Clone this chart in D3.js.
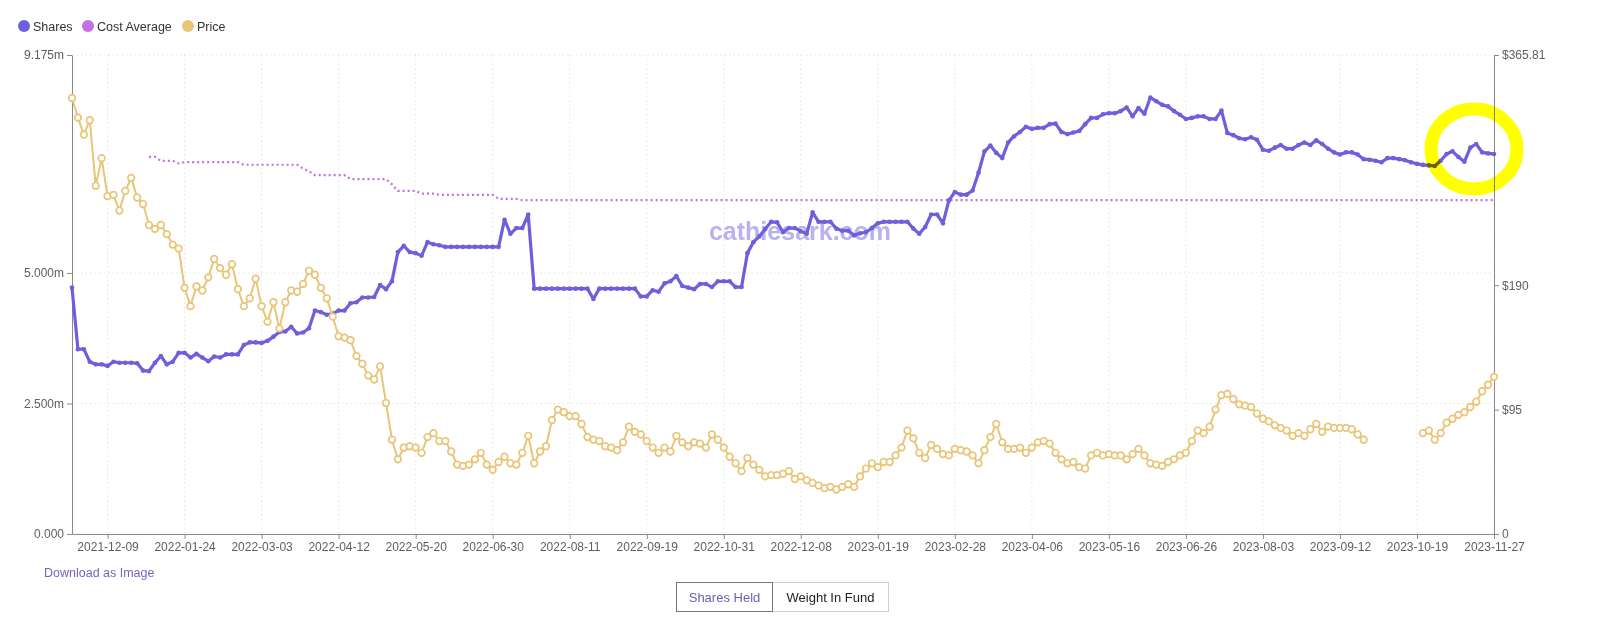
<!DOCTYPE html>
<html><head><meta charset="utf-8">
<script src="https://cdn.jsdelivr.net/npm/d3@7"></script>
<style>
body{margin:0;background:#fff;}
svg{display:block;font-family:"Liberation Sans",Arial,sans-serif;}
</style></head><body>
<svg id="chart" width="1600" height="634"></svg>
<script>
const seriesNames = ["Shares", "Cost Average", "Price"];
const tickLabels = ["2021-12-09","2022-01-24","2022-03-03","2022-04-12","2022-05-20","2022-06-30","2022-08-11","2022-09-19","2022-10-31","2022-12-08","2023-01-19","2023-02-28","2023-04-06","2023-05-16","2023-06-26","2023-08-03","2023-09-12","2023-10-19","2023-11-27"];
const tickIndex = [6,19,32,45,58,71,84,97,110,123,136,149,162,175,188,201,214,227,240];
const leftTicks = [0, 2.5, 5, 9.175];
const leftTickLabels = ["0.000","2.500m","5.000m","9.175m"];
const rightTicks = [0, 95, 190, 365.81];
const rightTickLabels = ["0","$95","$190","$365.81"];

// shares held (millions)
const shares = [
4.72,3.54,3.54,3.30,3.25,3.25,3.22,3.30,3.28,3.28,
3.28,3.27,3.13,3.12,3.28,3.41,3.25,3.30,3.47,3.47,
3.38,3.45,3.38,3.31,3.40,3.38,3.44,3.44,3.44,3.62,
3.67,3.67,3.66,3.70,3.78,3.87,3.88,3.97,3.84,3.86,
3.94,4.28,4.25,4.20,4.22,4.28,4.28,4.42,4.44,4.53,
4.53,4.54,4.77,4.69,4.84,5.40,5.52,5.40,5.38,5.33,
5.59,5.55,5.53,5.50,5.50,5.50,5.50,5.50,5.50,5.50,
5.50,5.50,5.50,6.02,5.75,5.86,5.86,6.12,4.70,4.70,
4.70,4.70,4.70,4.70,4.70,4.70,4.70,4.70,4.50,4.70,
4.70,4.70,4.70,4.70,4.70,4.70,4.55,4.55,4.67,4.64,
4.80,4.84,4.94,4.75,4.72,4.69,4.79,4.79,4.73,4.84,
4.84,4.84,4.73,4.73,5.38,5.59,5.70,5.84,5.98,5.97,
5.78,5.86,5.86,5.80,5.75,6.16,5.98,5.98,5.98,5.85,
5.81,5.81,5.72,5.76,5.78,5.86,5.95,5.98,5.98,5.98,
5.98,5.98,5.85,5.75,5.88,6.12,6.12,5.95,6.39,6.55,
6.50,6.50,6.58,6.92,7.33,7.44,7.30,7.20,7.50,7.62,
7.70,7.80,7.76,7.78,7.78,7.85,7.86,7.70,7.66,7.69,
7.72,7.85,7.97,7.97,8.04,8.06,8.06,8.10,8.17,8.00,
8.16,8.05,8.36,8.29,8.22,8.19,8.10,8.03,7.95,7.97,
8.00,8.00,7.95,7.95,8.11,7.68,7.64,7.58,7.56,7.60,
7.55,7.36,7.34,7.40,7.45,7.38,7.38,7.45,7.50,7.45,
7.54,7.47,7.38,7.31,7.27,7.31,7.31,7.27,7.18,7.17,
7.15,7.12,7.20,7.20,7.18,7.16,7.12,7.09,7.07,7.06,
7.05,7.15,7.28,7.33,7.22,7.13,7.40,7.47,7.31,7.29,
7.28
];

// share price ($)
const price = [
333,318,305,316,266,287,258,259,247,262,
272,257,252,236,233,236,229,221,218,188,
174,189,186,196,210,203,198,206,187,174,
180,195,174,162,177,157,177,186,185,191,
201,198,188,180,166,151,150,148,136,130,
121,118,128,100,72,57,66,67,66,62,
74,77,71,71,63,53,52,53,57,62,
53,49,55,59,54,53,62,75,54,63,
67,87,95,93,90,90,84,74,72,71,
67,66,64,70,82,78,76,71,66,62,
66,63,75,70,67,70,69,66,76,72,
66,59,54,48,58,53,49,44,45,45,
46,48,42,44,41,39,37,35,36,34,
36,38,36,44,50,54,51,55,55,60,
66,79,73,62,58,68,65,61,60,65,
64,63,60,54,64,74,84,70,65,65,
66,62,66,70,71,69,62,57,54,55,
51,50,60,62,60,61,60,60,57,61,
65,60,54,53,52,55,57,60,62,71,
79,77,82,95,106,107,103,99,98,97,
92,88,86,83,81,79,75,77,75,80,
84,78,82,81,81,81,80,76,72,null,
null,null,null,null,null,null,null,null,77,79,
72,77,85,88,91,93,97,101,109,114,
120
];

// cost average ($)
const costAverage = [
null,null,null,null,null,null,null,null,null,null,
null,null,null,288,288,285,285,285,283,284,
284,284,284,284,284,284,284,284,284,282,
282,282,282,282,282,282,282,282,282,279,
277,274,274,274,274,274,274,271,271,271,
271,271,271,271,267,262,262,262,262,260,
260,260,259,259,259,259,259,259,259,259,
259,259,256,256,256,256,255,255,255,255,
255,255,255,255,255,255,255,255,255,255,
255,255,255,255,255,255,255,255,255,255,
255,255,255,255,255,255,255,255,255,255,
255,255,255,255,255,255,255,255,255,255,
255,255,255,255,255,255,255,255,255,255,
255,255,255,255,255,255,255,255,255,255,
255,255,255,255,255,255,255,255,255,255,
255,255,255,255,255,255,255,255,255,255,
255,255,255,255,255,255,255,255,255,255,
255,255,255,255,255,255,255,255,255,255,
255,255,255,255,255,255,255,255,255,255,
255,255,255,255,255,255,255,255,255,255,
255,255,255,255,255,255,255,255,255,255,
255,255,255,255,255,255,255,255,255,255,
255,255,255,255,255,255,255,255,255,255,
255,255,255,255,255,255,255,255,255,255,
255
];

// ---- drawing ----
const colors = {shares:"#6e5fdc", cost:"#c56ee2", price:"#e8c578"};
const svg = d3.select("#chart");
svg.append("rect").attr("width",1600).attr("height",634).attr("fill","#fff");

const x = d3.scaleLinear().domain([0, shares.length - 1]).range([72, 1494]);
const yL = d3.scaleLinear().domain([0, 9.175]).range([534, 55]);
const yR = d3.scaleLinear().domain([0, 365.81]).range([534, 55]);

// grid
const grid = svg.append("g");
grid.selectAll("line.v").data(tickIndex).join("line")
  .attr("x1", d => x(d)).attr("x2", d => x(d)).attr("y1", 55).attr("y2", 534)
  .attr("stroke", "#e3e3e3").attr("stroke-dasharray", "1.5,3");
grid.selectAll("line.h").data(leftTicks.slice(1)).join("line")
  .attr("x1", 72).attr("x2", 1494).attr("y1", d => yL(d)).attr("y2", d => yL(d))
  .attr("stroke", "#e3e3e3").attr("stroke-dasharray", "1.5,3");

// watermark
svg.append("text").attr("x", 800).attr("y", 240).attr("text-anchor", "middle")
  .attr("font-size", 25).attr("font-weight", "bold").attr("fill", "#b9b1f1")
  .attr("font-family", "'Liberation Sans', Arial, sans-serif")
  .text("cathiesark.com");

// axes
function styleAxis(g){
  g.selectAll("path.domain").attr("stroke", "#8a8a8a");
  g.selectAll(".tick line").attr("stroke", "#8a8a8a");
  g.selectAll(".tick text").attr("fill", "#5e5e5e").attr("font-size", 12)
    .attr("font-family", "'Liberation Sans', Arial, sans-serif");
}
svg.append("g").attr("transform", "translate(72,0)")
  .call(d3.axisLeft(yL).tickValues(leftTicks).tickFormat((d,i) => leftTickLabels[i]).tickSize(5).tickSizeOuter(0))
  .call(styleAxis);
svg.append("g").attr("transform", "translate(1494,0)")
  .call(d3.axisRight(yR).tickValues(rightTicks).tickFormat((d,i) => rightTickLabels[i]).tickSize(5).tickSizeOuter(0))
  .call(styleAxis);
svg.append("g").attr("transform", "translate(0,534)")
  .call(d3.axisBottom(x).tickValues(tickIndex).tickFormat((d,i) => tickLabels[i]).tickSize(5).tickSizeOuter(0))
  .call(styleAxis);

// cost average (dotted)
const costLine = d3.line().defined(d => d != null).x((d,i) => x(i)).y(d => yR(d));
svg.append("path").datum(costAverage).attr("d", costLine)
  .attr("fill", "none").attr("stroke", colors.cost).attr("stroke-width", 2.2)
  .attr("stroke-dasharray", "2,3");

// shares
const sharesLine = d3.line().x((d,i) => x(i)).y(d => yL(d));
svg.append("path").datum(shares).attr("d", sharesLine)
  .attr("fill", "none").attr("stroke", colors.shares).attr("stroke-width", 3.2)
  .attr("stroke-linejoin", "round");
svg.append("g").selectAll("circle").data(shares).join("circle")
  .attr("cx", (d,i) => x(i)).attr("cy", d => yL(d)).attr("r", 2.3)
  .attr("fill", colors.shares);

// price
const priceLine = d3.line().defined(d => d != null).x((d,i) => x(i)).y(d => yR(d));
svg.append("path").datum(price).attr("d", priceLine)
  .attr("fill", "none").attr("stroke", colors.price).attr("stroke-width", 2);
svg.append("g").selectAll("circle")
  .data(price.map((v,i) => ({v,i})).filter(d => d.v != null)).join("circle")
  .attr("cx", d => x(d.i)).attr("cy", d => yR(d.v)).attr("r", 3.3)
  .attr("fill", "#fff").attr("stroke", colors.price).attr("stroke-width", 1.7);

// legend
const legendX = [24, 88, 188];
const legendColors = [colors.shares, colors.cost, colors.price];
const lg = svg.append("g");
seriesNames.forEach((n, i) => {
  lg.append("circle").attr("cx", legendX[i]).attr("cy", 26).attr("r", 6).attr("fill", legendColors[i]);
  lg.append("text").attr("x", legendX[i] + 9).attr("y", 30.5).attr("font-size", 12.5)
    .attr("fill", "#333").text(n);
});

// hand-drawn highlight
svg.append("ellipse").attr("cx", 1474).attr("cy", 149).attr("rx", 43).attr("ry", 40)
  .attr("fill", "none").attr("stroke", "#ffff00").attr("stroke-width", 13)
  .style("mix-blend-mode", "multiply");

// footer
svg.append("text").attr("x", 44).attr("y", 577).attr("font-size", 12.5)
  .attr("fill", "#7466c0").text("Download as Image");
svg.append("rect").attr("x", 772.5).attr("y", 582.5).attr("width", 116).attr("height", 29)
  .attr("fill", "#fff").attr("stroke", "#cfcfcf");
svg.append("rect").attr("x", 676.5).attr("y", 582.5).attr("width", 96).attr("height", 29)
  .attr("fill", "#fff").attr("stroke", "#777");
svg.append("text").attr("x", 724.5).attr("y", 601.5).attr("text-anchor", "middle")
  .attr("font-size", 13).attr("fill", "#6a5fb0").text("Shares Held");
svg.append("text").attr("x", 830.5).attr("y", 601.5).attr("text-anchor", "middle")
  .attr("font-size", 13).attr("fill", "#222").text("Weight In Fund");
</script>
</body></html>
